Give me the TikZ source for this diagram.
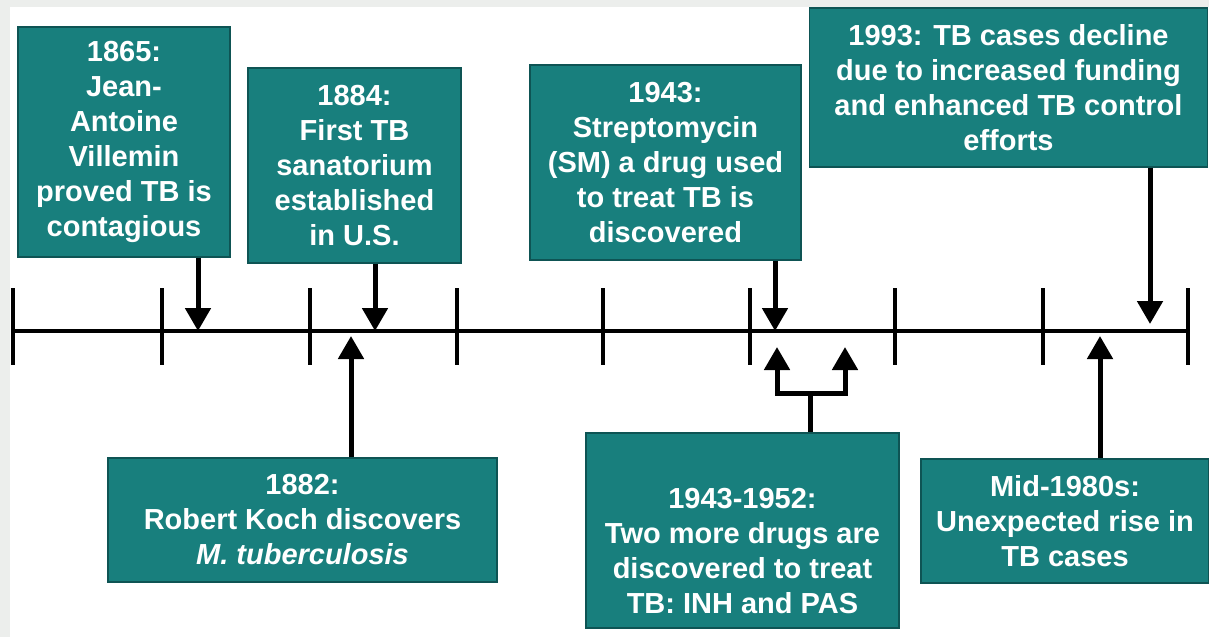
\documentclass[tikz,border=0pt]{standalone}
\usepackage{fontspec}
\setmainfont{Liberation Sans}
\usepackage{tikz}
\usetikzlibrary{arrows.meta, positioning}
\usepackage{xcolor}
\definecolor{tbteal}{RGB}{24,127,125}
\definecolor{tbedge}{RGB}{14,84,84}
\definecolor{tbframe}{RGB}{236,238,236}
\tikzset{%
	event/.style={
		rectangle,
		draw=tbedge,
		line width=0.6pt,
		fill=tbteal,
		text=white,
		inner sep=0pt,
		align=center,
		font=\fontsize{14.5}{17.5}\selectfont\bfseries
	},
	pointer/.style={
		line width=2.5pt,
		-{Triangle[width=12.5pt,length=11.5pt]}
	},
	timeline/.style={line width=2pt},
	tickmark/.style={line width=1.8pt},
}

\begin{document}
\begin{tikzpicture}[x=0.5pt,y=-0.5pt]
			% Frame
			\useasboundingbox (0,0) rectangle (1209,637);
			\fill[tbframe] (0,0) rectangle (1209,637);
			\fill[white] (10,7) rectangle (1209,637);
			
			% Time line and ticks
			\coordinate (start) at (13,331);
			\coordinate (end) at (1188,331);
			\draw[timeline] (start) -- (end);
			\foreach \x in {13,162,310,457,603,750,895,1043,1188}
				\draw[tickmark] (\x,288) -- (\x,365);
			
			% Events above the line
			\node[event, minimum width=106pt, minimum height=115pt] (ev1865) at (124,142)
				{1865:\\Jean-\\Antoine\\Villemin\\proved TB is\\contagious};
			\node[event, minimum width=106.5pt, minimum height=97.5pt] (ev1884) at (354.5,165.5)
				{1884:\\First TB\\sanatorium\\established\\in U.S.};
			\node[event, minimum width=135.5pt, minimum height=97.5pt] (ev1943) at (665.5,162.5)
				{1943:\\Streptomycin\\(SM) a drug used\\to treat TB is\\discovered};
			\node[event, minimum width=199pt, minimum height=79.5pt] (ev1993) at (1008.5,87.5)
				{1993: TB cases decline\\due to increased funding\\and enhanced TB control\\efforts};
			
			% Events below the line
			\node[event, minimum width=194.5pt, minimum height=62pt] (ev1882) at (302.5,520)
				{1882:\\Robert Koch discovers\\\textit{M. tuberculosis}};
			\node[event, minimum width=156.5pt, minimum height=97.5pt] (ev1952) at (742.5,530.5)
				{\rule{0pt}{31pt}1943-1952:\\Two more drugs are\\discovered to treat\\TB: INH and PAS};
			\node[event, minimum width=144pt, minimum height=62pt] (ev1980) at (1065,521)
				{Mid-1980s:\\Unexpected rise in\\TB cases};
			
			% Points on the line
			\coordinate (t1865) at (198,331);
			\coordinate (t1884) at (375,331);
			\coordinate (t1943) at (775,331);
			\coordinate (t1993) at (1150,324);
			\coordinate (t1882) at (351,336);
			\coordinate (tinh) at (777,347);
			\coordinate (tpas) at (845,347);
			\coordinate (t1980) at (1100,336);
			\coordinate (fork) at (810,393);
			
			\draw[pointer] (ev1865.south -| t1865) -- (t1865);
			\draw[pointer] (ev1884.south -| t1884) -- (t1884);
			\draw[pointer] (ev1943.south -| t1943) -- (t1943);
			\draw[pointer] (ev1993.south -| t1993) -- (t1993);
			
			\draw[pointer] (ev1882.north -| t1882) -- (t1882);
			\draw[pointer] (ev1980.north -| t1980) -- (t1980);
			
			% Fork for the two drugs
			\draw[line width=2.5pt] (ev1952.north -| fork) -- (fork);
			\draw[pointer] (fork) -| (tinh);
			\draw[pointer] (fork) -| (tpas);
		\end{tikzpicture}
\end{document}
